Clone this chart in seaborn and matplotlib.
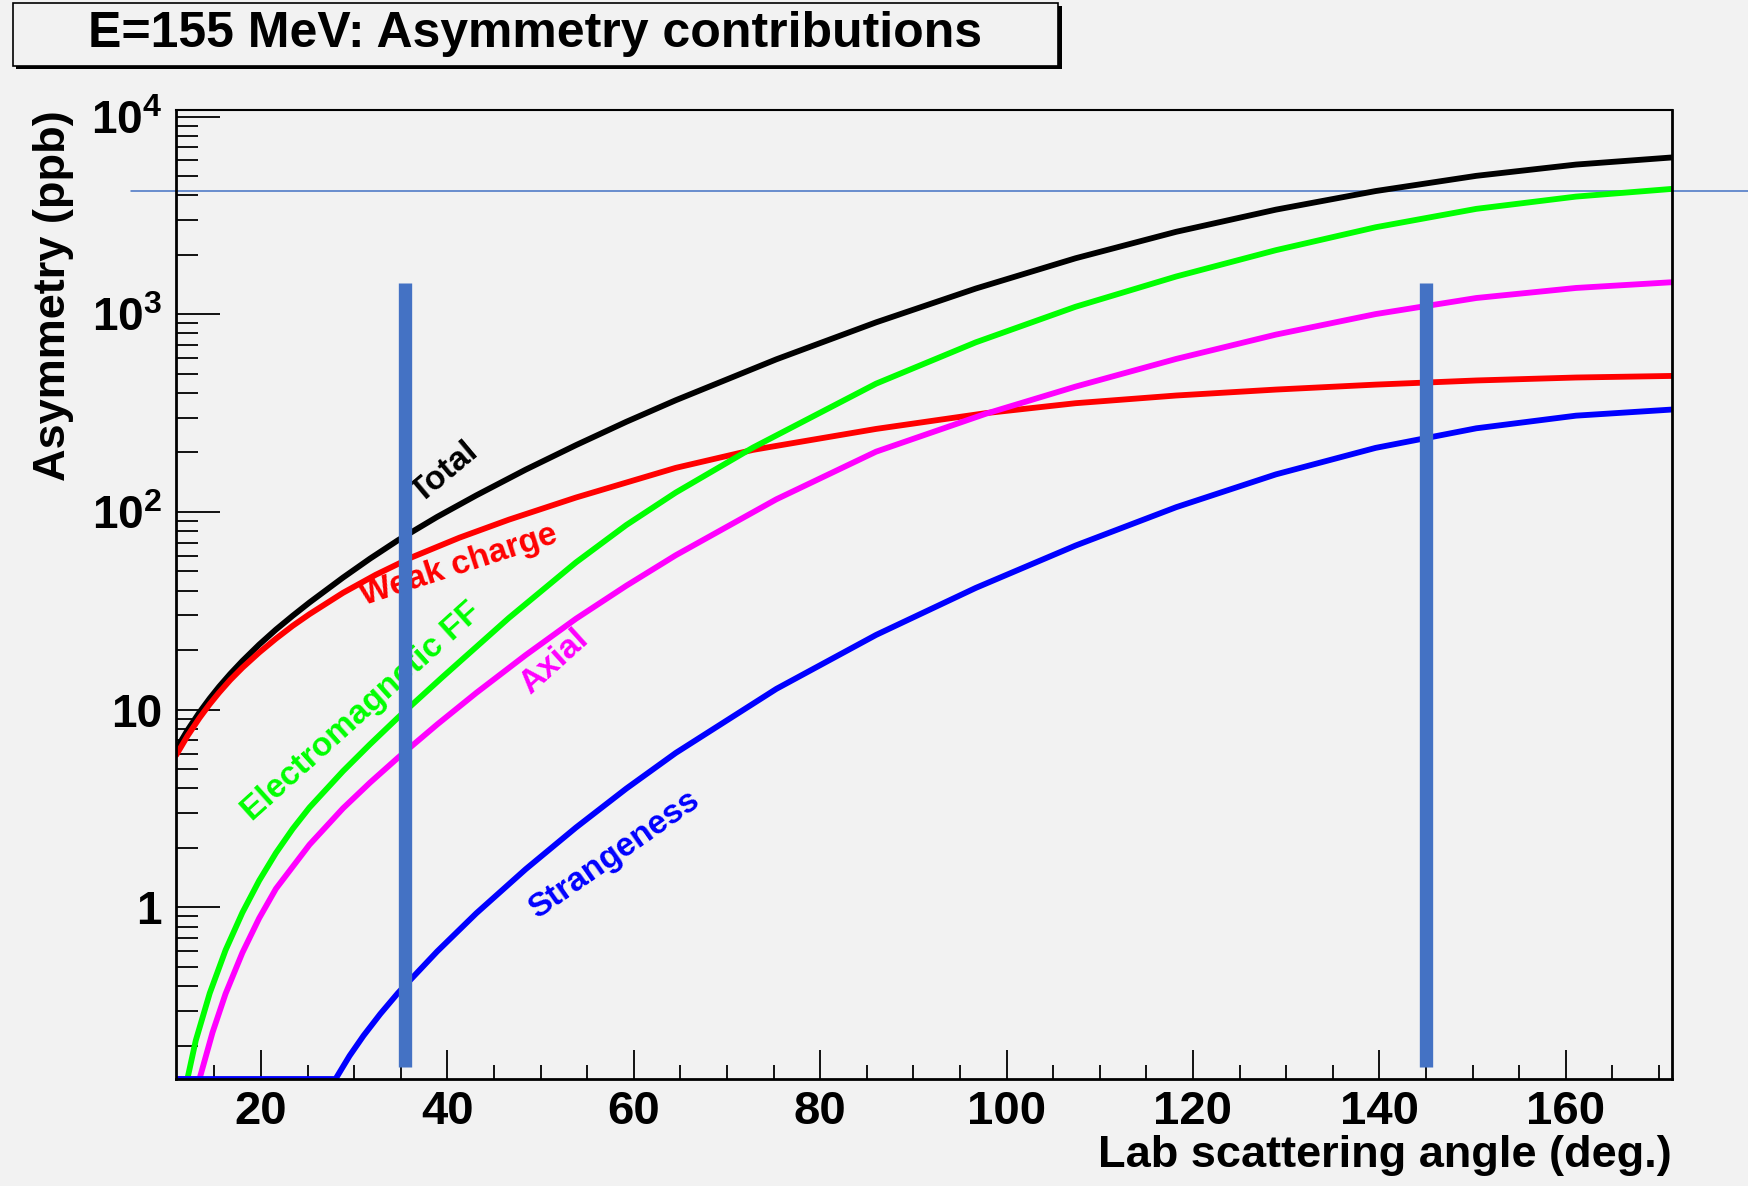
import numpy as np
import pandas as pd
import matplotlib
matplotlib.use("Agg")
import matplotlib.pyplot as plt
from matplotlib.patches import Rectangle
from matplotlib.ticker import FixedLocator, FixedFormatter, NullFormatter
import seaborn as sns

# ---------------- data ----------------
total_angle = [10.9, 12.1, 13.4, 14.5, 15.5, 16.7, 18.0, 19.8, 21.6, 23.4, 25.2, 28.8,
               31.7, 34.7, 38.9, 43.1, 48.4, 53.8, 59.2, 64.5, 75.3, 86.0, 96.7, 107.4,
               118.2, 128.9, 139.6, 150.4, 161.1, 171.4]
total_asym = [6.31, 7.85, 9.70, 11.40, 13.06, 15.17, 17.62, 21.33, 25.41, 29.85, 34.83,
              46.56, 58.07, 71.94, 94.41, 121.3, 163.7, 217.8, 285.8, 367.3, 591.6,
              909.9, 1349, 1919, 2612, 3381, 4198, 5012, 5715, 6209]

weak_angle = [10.9, 12.1, 13.4, 14.5, 15.5, 16.7, 18.0, 19.8, 21.6, 23.4, 25.2, 28.8,
              32.3, 36.1, 41.3, 46.6, 53.8, 64.5, 72.8, 86.0, 97.8, 107.4, 118.2, 128.9,
              139.6, 150.4, 161.1, 171.4]
weak_asym = [5.89, 7.35, 9.08, 10.67, 12.19, 14.13, 16.29, 19.45, 22.86, 26.55, 30.41,
             38.99, 48.08, 58.75, 74.13, 91.41, 118.3, 167.1, 206.1, 263.0, 316.2, 354.8,
             388.1, 415.9, 440.6, 462.4, 478.6, 487.5]

em_angle = [10.9, 12.1, 13.0, 14.5, 16.2, 18.0, 19.8, 21.6, 23.4, 25.2, 28.8, 31.7, 34.7,
            39.5, 46.6, 53.8, 59.2, 64.5, 72.8, 86.0, 96.7, 107.4, 118.2, 128.9, 139.6,
            150.4, 161.1, 171.4]
em_asym = [0.1355, 0.1355, 0.212, 0.368, 0.608, 0.940, 1.365, 1.884, 2.495, 3.199, 4.887,
           6.683, 9.120, 14.66, 29.11, 55.59, 85.90, 125.3, 211.8, 445.6, 721.1, 1091,
           1552, 2109, 2754, 3412, 3936, 4305]

axial_angle = [10.9, 13.4, 14.8, 16.2, 18.0, 19.8, 21.6, 25.2, 28.8, 31.7, 34.7, 38.9,
               43.1, 48.4, 53.8, 59.2, 64.5, 75.3, 86.0, 97.8, 107.4, 118.2, 128.9, 139.6,
               150.4, 161.1, 171.4]
axial_asym = [0.1355, 0.1355, 0.233, 0.366, 0.589, 0.881, 1.242, 2.075, 3.170, 4.276,
              5.715, 8.414, 12.16, 18.88, 28.84, 42.36, 60.39, 115.9, 201.8, 314.1, 430.5,
              594.3, 788.9, 1002, 1208, 1358, 1452]

strange_angle = [10.9, 28.0, 29.5, 31.0, 32.8, 34.7, 38.9, 43.1, 48.4, 53.8, 59.2, 64.5,
                 75.3, 86.0, 96.7, 107.4, 118.2, 128.9, 139.6, 150.4, 161.1, 171.4]
strange_asym = [0.1355, 0.1355, 0.1774, 0.2244, 0.2891, 0.3690, 0.5984, 0.9333, 1.560,
                2.535, 3.990, 6.039, 12.74, 23.88, 41.30, 67.61, 105.7, 154.9, 210.9,
                264.9, 306.9, 329.6]

components = ["Total", "Weak charge", "Electromagnetic FF", "Axial", "Strangeness"]
colors = ["#000000", "#ff0000", "#00ff00", "#ff00ff", "#0000ff"]

x_ticks = [20, 40, 60, 80, 100, 120, 140, 160]
x_tick_labels = ["20", "40", "60", "80", "100", "120", "140", "160"]
y_ticks = [1, 10, 100, 1000, 10000]
y_tick_labels = ["1", "10", r"$10^{2}$", r"$10^{3}$", r"$10^{4}$"]

cut_angles = [35.4, 145.0]          # vertical acceptance bars
cut_range = [0.155, 1443]
ref_level = 4217                     # thin horizontal reference line
ref_span = [6.1, 179.6]

title = "E=155 MeV: Asymmetry contributions"
xlabel = "Lab scattering angle (deg.)"
ylabel = "Asymmetry (ppb)"

# ---------------- build table ----------------
series = [(total_angle, total_asym), (weak_angle, weak_asym), (em_angle, em_asym),
          (axial_angle, axial_asym), (strange_angle, strange_asym)]
frames = []
for name, (a, v) in zip(components, series):
    frames.append(pd.DataFrame({"angle": a, "asym": v, "component": name}))
df = pd.concat(frames, ignore_index=True)

# ---------------- style ----------------
sns.set_style("ticks")
bg = "#f2f2f2"
plt.rcParams["font.family"] = ["Liberation Sans", "DejaVu Sans"]
plt.rcParams["font.weight"] = "bold"
plt.rcParams["text.color"] = "black"
plt.rcParams["axes.labelcolor"] = "black"
plt.rcParams["xtick.color"] = "black"
plt.rcParams["ytick.color"] = "black"
plt.rcParams["mathtext.fontset"] = "custom"
plt.rcParams["mathtext.rm"] = "Liberation Sans:bold"
plt.rcParams["mathtext.bf"] = "Liberation Sans:bold"
plt.rcParams["mathtext.it"] = "Liberation Sans:bold"
plt.rcParams["mathtext.sf"] = "Liberation Sans:bold"

fig = plt.figure(figsize=(17.48, 11.86), dpi=100, facecolor=bg)
ax = fig.add_axes([176 / 1748, 107 / 1186, 1496 / 1748, 969 / 1186])
ax.set_facecolor(bg)

# reference horizontal line (beneath curves, extends past axes)
ax.plot(ref_span, [ref_level, ref_level], color="#4472c4", lw=1.1,
        clip_on=False, zorder=1)

sns.lineplot(data=df, x="angle", y="asym", hue="component", hue_order=components,
             palette=dict(zip(components, colors)), units="component",
             estimator=None, sort=False, linewidth=4.2, legend=False, ax=ax,
             zorder=2)

ax.set_yscale("log")
ax.set_xlim(10.88, 171.4)
ax.set_ylim(0.1355, 10790)

# vertical bars
for a in cut_angles:
    ax.plot([a, a], cut_range, color="#4472c4", lw=9.6,
            solid_capstyle="butt", zorder=5)

# curve labels
label_specs = [
    ("Total", 39.7, 159, 40, "#000000"),
    ("Weak charge", 41.2, 53.4, 18, "#ff0000"),
    ("Electromagnetic FF", 30.8, 9.76, 42, "#00ff00"),
    ("Axial", 51.5, 17.5, 42, "#ff00ff"),
    ("Strangeness", 57.9, 1.84, 35, "#0000ff"),
]
for txt, xx, yy, rot, c in label_specs:
    ax.text(xx, yy, txt, rotation=rot, rotation_mode="anchor", ha="center",
            va="center", color=c, fontsize=24, fontweight="bold", zorder=4)

# ticks
ax.xaxis.set_major_locator(FixedLocator(x_ticks))
ax.xaxis.set_major_formatter(FixedFormatter(x_tick_labels))
ax.xaxis.set_minor_locator(FixedLocator(np.arange(15, 171, 5)))
ax.xaxis.set_minor_formatter(NullFormatter())
ax.yaxis.set_major_locator(FixedLocator(y_ticks))
ax.yaxis.set_major_formatter(FixedFormatter(y_tick_labels))
minor_y = [m * 10.0 ** e for e in range(-1, 4) for m in range(2, 10)]
ax.yaxis.set_minor_locator(FixedLocator(minor_y))
ax.yaxis.set_minor_formatter(NullFormatter())

ax.tick_params(axis="x", which="major", direction="in", length=21, width=1.3,
               labelsize=34, pad=8, top=False, colors="black")
ax.tick_params(axis="x", which="minor", direction="in", length=10, width=1.3,
               top=False, colors="black")
ax.tick_params(axis="y", which="major", direction="in", length=32, width=1.3,
               labelsize=33, pad=10, right=False, colors="black")
ax.tick_params(axis="y", which="minor", direction="in", length=16, width=1.3,
               right=False, colors="black")
for lab in ax.get_xticklabels() + ax.get_yticklabels():
    lab.set_fontweight("bold")

for s in ["left", "bottom", "right"]:
    ax.spines[s].set_linewidth(2.0)
ax.spines["top"].set_linewidth(1.5)
for s in ax.spines.values():
    s.set_color("black")
    s.set_visible(True)

# axis labels
ax.set_xlabel(xlabel, fontsize=32.5, fontweight="bold", color="black")
ax.xaxis.set_label_coords(1.0, -0.0908)
ax.xaxis.label.set_ha("right")
ax.xaxis.label.set_va("baseline")
ax.set_ylabel(ylabel, fontsize=32.5, fontweight="bold", color="black")
ax.yaxis.set_label_coords(-0.0819, 1.0)
ax.yaxis.label.set_rotation_mode("anchor")
ax.yaxis.label.set_ha("right")
ax.yaxis.label.set_va("center")

# title box with drop shadow
W, H = 1748.0, 1186.0
bx0, bx1, by0, by1 = 12.7, 1058.0, 2.7, 65.7
sh = 3.6
fig.patches.append(Rectangle(((bx0 + sh) / W, 1 - (by1 + sh) / H), (bx1 - bx0) / W,
                             (by1 - by0) / H, transform=fig.transFigure,
                             facecolor="black", edgecolor="black", lw=0, zorder=0))
fig.patches.append(Rectangle((bx0 / W, 1 - by1 / H), (bx1 - bx0) / W,
                             (by1 - by0) / H, transform=fig.transFigure,
                             facecolor=bg, edgecolor="black", lw=1.2, zorder=1))
fig.text(535 / W, 1 - 46.7 / H, title, ha="center", va="baseline",
         fontsize=36, fontweight="bold", color="black", zorder=3)

fig.savefig("out.png", dpi=100, facecolor=bg)
